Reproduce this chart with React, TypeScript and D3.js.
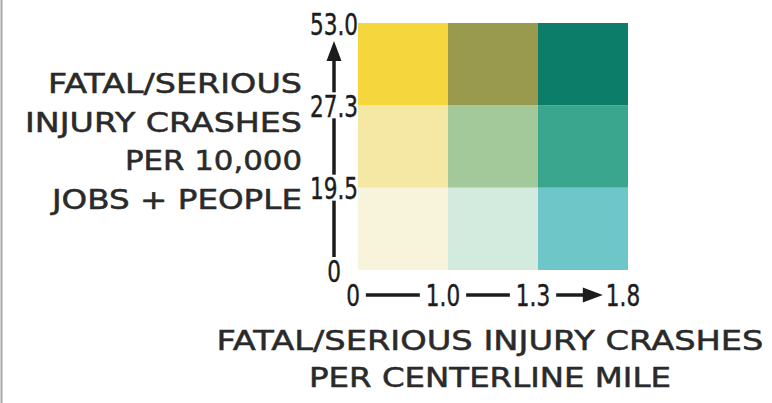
import React, { useEffect, useRef } from "react";
import * as d3 from "d3";

// bivariate classes
const crashLevels = ["low", "medium", "high"]; // crashes per centerline mile (x)
const rateLevels = ["low", "medium", "high"]; // crashes per 10,000 jobs + people (y)
const xBreaks = ["0", "1.0", "1.3", "1.8"];
const yBreaks = ["0", "19.5", "27.3", "53.0"];

// one colour row per rate level, columns follow crashLevels
const lowRateColors = ["#f8f4dc", "#d3eadf", "#6ec6c8"];
const midRateColors = ["#f4e8a4", "#a3c89a", "#3aa68e"];
const highRateColors = ["#f5d63d", "#9a9a4e", "#0b7d68"];

const yTitle = ["FATAL/SERIOUS", "INJURY CRASHES", "PER 10,000", "JOBS + PEOPLE"];
const xTitle = ["FATAL/SERIOUS INJURY CRASHES", "PER CENTERLINE MILE"];

const W = 772;
const H = 403;
const tickFont = "'Liberation Sans Narrow', 'DejaVu Sans Condensed', 'Roboto Condensed', sans-serif";
const titleFont = "'DejaVu Sans', 'Noto Sans', sans-serif";
const ink = "#1c1c1c";
const titleInk = "#2a2a2a";

const BivariateLegend = () => {
  const svgRef = useRef<SVGSVGElement>(null);

  useEffect(() => {
    const svg = d3.select(svgRef.current);
    svg.selectAll("*").remove();

    const grid = { left: 358, right: 628, top: 23, bottom: 270 };

    const x = d3.scaleBand().domain(crashLevels).range([grid.left, grid.right]);
    const y = d3.scaleBand().domain(rateLevels).range([grid.bottom, grid.top]);
    const xEdge = d3.scaleLinear().domain([0, xBreaks.length - 1]).range([grid.left, grid.right]);
    const yEdge = d3.scaleLinear().domain([0, yBreaks.length - 1]).range([grid.bottom, grid.top]);

    const rows = [lowRateColors, midRateColors, highRateColors];
    const cells = rows.flatMap((row, ri) =>
      row.map((color, ci) => ({ rate: rateLevels[ri], crash: crashLevels[ci], color }))
    );

    // left frame line
    svg
      .append("line")
      .attr("x1", 1.5)
      .attr("x2", 1.5)
      .attr("y1", 0)
      .attr("y2", H)
      .style("stroke", "#a8a8a8")
      .style("stroke-width", 2);

    svg
      .append("g")
      .selectAll("rect")
      .data(cells)
      .enter()
      .append("rect")
      .attr("x", (d) => x(d.crash))
      .attr("y", (d) => y(d.rate))
      .attr("width", x.bandwidth())
      .attr("height", y.bandwidth())
      .attr("fill", (d) => d.color);

    // squeeze tick labels to the tall, narrow look of the original
    const squeeze = (sel: any) => {
      sel.each(function () {
        const el = this as SVGTextElement;
        const w = el.getComputedTextLength();
        d3.select(el).attr("textLength", w * 0.8).attr("lengthAdjust", "spacingAndGlyphs");
      });
    };

    // y axis: labels sit on the line, line broken around them
    const yAxisX = 334;
    const yAxis = svg.append("g");
    yAxis
      .selectAll("text")
      .data(yBreaks)
      .enter()
      .append("text")
      .attr("x", yAxisX)
      .attr("y", (d, i) => yEdge(i) + 1)
      .attr("dy", "0.36em")
      .attr("text-anchor", "middle")
      .style("font-family", tickFont)
      .style("font-size", "30px")
      .style("fill", ink)
      .style("stroke", ink)
      .style("stroke-width", 0.4)
      .text((d) => d)
      .call(squeeze);

    const gap = 13;
    for (let i = 0; i < yBreaks.length - 1; i++) {
      const y1 = yEdge(i) - gap;
      const isLast = i === yBreaks.length - 2;
      const tip = yEdge(i + 1) + 18;
      const y2 = isLast ? tip + 16 : yEdge(i + 1) + gap;
      yAxis
        .append("line")
        .attr("x1", yAxisX)
        .attr("x2", yAxisX)
        .attr("y1", y1)
        .attr("y2", y2)
        .style("stroke", ink)
        .style("stroke-width", 3.5);
      if (isLast) {
        yAxis
          .append("path")
          .attr("d", `M${yAxisX},${tip}L${yAxisX + 7.5},${tip + 20}L${yAxisX - 7.5},${tip + 20}Z`)
          .style("fill", ink);
      }
    }

    // x axis
    const xAxisY = 295;
    const xAxis = svg.append("g");
    const xLabels = xAxis
      .selectAll("text")
      .data(xBreaks)
      .enter()
      .append("text")
      .attr("x", (d, i) => xEdge(i) - 5)
      .attr("y", xAxisY)
      .attr("dy", "0.36em")
      .attr("text-anchor", "middle")
      .style("font-family", tickFont)
      .style("font-size", "30px")
      .style("fill", ink)
      .style("stroke", ink)
      .style("stroke-width", 0.4)
      .text((d) => d)
      .call(squeeze);

    const widths: number[] = [];
    xLabels.each(function () {
      widths.push((this as SVGTextElement).getComputedTextLength());
    });
    for (let i = 0; i < xBreaks.length - 1; i++) {
      const x1 = xEdge(i) - 5 + widths[i] / 2 + 6;
      const x2 = xEdge(i + 1) - 5 - widths[i + 1] / 2 - 3;
      const isLast = i === xBreaks.length - 2;
      xAxis
        .append("line")
        .attr("x1", x1)
        .attr("x2", isLast ? x2 - 14 : x2 - 3)
        .attr("y1", xAxisY)
        .attr("y2", xAxisY)
        .style("stroke", ink)
        .style("stroke-width", 3.5);
      if (isLast) {
        xAxis
          .append("path")
          .attr("d", `M${x2},${xAxisY}L${x2 - 20},${xAxisY - 7.5}L${x2 - 20},${xAxisY + 7.5}Z`)
          .style("fill", ink);
      }
    }

    // titles
    const yTitleLengths = [254, 277, 177, 250];
    svg
      .append("g")
      .selectAll("text")
      .data(yTitle)
      .enter()
      .append("text")
      .attr("x", 302)
      .attr("y", (d, i) => 84 + i * 38.5)
      .attr("dy", "0.36em")
      .attr("text-anchor", "end")
      .attr("textLength", (d, i) => yTitleLengths[i])
      .attr("lengthAdjust", "spacingAndGlyphs")
      .style("font-family", titleFont)
      .style("font-size", "26px")
      .style("fill", titleInk)
      .style("stroke", titleInk)
      .style("stroke-width", 0.5)
      .text((d) => d);

    const xTitleLengths = [547, 362];
    svg
      .append("g")
      .selectAll("text")
      .data(xTitle)
      .enter()
      .append("text")
      .attr("x", 490)
      .attr("y", (d, i) => 341 + i * 37)
      .attr("dy", "0.36em")
      .attr("text-anchor", "middle")
      .attr("textLength", (d, i) => xTitleLengths[i])
      .attr("lengthAdjust", "spacingAndGlyphs")
      .style("font-family", titleFont)
      .style("font-size", "26px")
      .style("fill", titleInk)
      .style("stroke", titleInk)
      .style("stroke-width", 0.5)
      .text((d) => d);
  }, []);

  return (
    <svg
      ref={svgRef}
      width={W}
      height={H}
      style={{ position: "absolute", left: 0, top: 0, background: "#fff", display: "block" }}
    ></svg>
  );
};

export default function App() {
  return <BivariateLegend />;
}
